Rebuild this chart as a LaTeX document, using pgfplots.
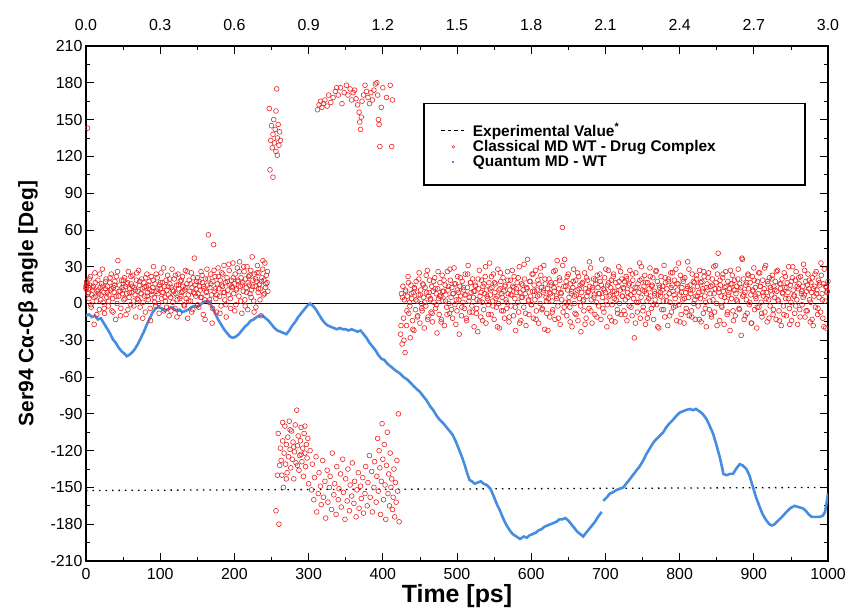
\documentclass[border=0pt]{standalone}
\usepackage{fontspec}
\setmainfont{Liberation Sans}
\usepackage{pgfplots}
\pgfplotsset{compat=1.18}
\definecolor{mdred}{RGB}{235,35,35}
\definecolor{qblue}{RGB}{70,140,225}
\begin{document}
\begin{tikzpicture}
\begin{axis}[
 width=742bp, height=515bp, scale only axis,
 xmin=0, xmax=1000, ymin=-210, ymax=210,
 xtick={0,100,...,1000}, ytick={-210,-180,...,210},
 minor x tick num=1, minor y tick num=1,
 tick align=inside, xtick pos=left, ytick pos=both,
 major tick length=8bp, minor tick length=4bp,
 axis line style={line width=1.2pt},
 tick style={black, line width=0.8pt},
 tick label style={font=\fontsize{16}{16}\selectfont},
 /pgf/number format/assume math mode=true,
 /pgf/number format/1000 sep={},
 xticklabel shift=4bp,
 xlabel={Time [ps]}, ylabel={Ser94 Cα-Cβ angle [Deg]},
 xlabel style={font=\bfseries\fontsize{25}{25}\selectfont, at={(axis description cs:0.5,0)}, anchor=north, inner sep=0pt, yshift=-23bp},
 ylabel style={font=\bfseries\fontsize{21}{21}\selectfont, at={(axis description cs:0,0.5)}, anchor=south, inner sep=0pt, yshift=48bp},
 legend style={at={(0.478,0.806)}, anchor=west, draw=none, fill=none, inner sep=0pt,
   nodes={inner sep=1.5bp},
   font=\bfseries\fontsize{15.5}{17}\selectfont, row sep=0bp},
 legend cell align=left,
]
\addplot[black, line width=0.8pt, forget plot] coordinates {(0,0)(1000,0)};
\addplot[black, line width=1.3pt, dash pattern=on 1.5bp off 5bp, forget plot] coordinates {(0,-152.5)(1000,-150)};
% Quantum MD - WT
\addplot[qblue, line width=2.6pt, forget plot] coordinates {
(0,-10)(4,-9)(8,-11)(12,-10)(16,-13)(20,-12)(24,-16)(28,-20)(32,-24)(36,-29)(40,-32)(44,-36)(48,-39)(52,-41)(55,-43)(58,-42)(62,-40)(66,-37)(70,-33)(74,-28)(78,-23)(82,-17)(86,-12)(90,-7)(94,-4)(98,-3)(102,-4)(106,-6)(110,-5)(114,-3)(118,-4)(122,-6)(126,-5)(130,-7)(134,-6)(138,-5)(142,-3)(146,-2)(150,-3)(154,-1)(158,1)(162,2)(166,1)(170,-3)(174,-8)(178,-13)(182,-17)(186,-21)(190,-24)(194,-27)(198,-28)(202,-27)(206,-25)(210,-22)(214,-19)(218,-17)(222,-14)(226,-13)(230,-11)(234,-10)(238,-10)(242,-12)(246,-14)(250,-17)(254,-20)(258,-22)(262,-23)(266,-24)(270,-25)(274,-22)(278,-18)(282,-15)(286,-11)(290,-8)(294,-5)(298,-2)(302,0)(306,-2)(310,-5)(314,-9)(318,-13)(322,-16)(326,-18)(330,-19)(334,-20)(338,-21)(342,-20)(346,-21)(350,-21)(354,-22)(358,-21)(362,-22)(366,-23)(370,-22)(374,-25)(378,-28)(382,-32)(386,-35)(390,-38)(394,-42)(398,-45)(402,-46)(406,-49)(410,-51)(414,-53)(418,-55)(423,-57)(428,-60)(433,-62)(438,-65)(441,-67)(446,-70)(450,-72)(455,-76)(459,-79)(464,-84)(468,-87)(473,-92)(477,-95)(482,-98)(486,-101)(490,-104)(494,-107)(498,-112)(502,-118)(506,-124)(510,-131)(514,-139)(517,-144)(520,-145)(524,-147)(528,-146)(532,-145)(536,-147)(540,-148)(545,-151)(550,-158)(554,-164)(558,-169)(562,-175)(566,-180)(571,-185)(575,-188)(580,-190)(585,-192)(590,-190)(594,-191)(598,-189)(602,-188)(606,-187)(610,-185)(614,-184)(618,-182)(622,-181)(626,-180)(630,-179)(634,-178)(638,-176)(642,-176)(646,-175)(650,-177)(654,-180)(658,-183)(662,-186)(666,-188)(670,-190)(674,-187)(678,-184)(682,-181)(686,-178)(690,-174)(695,-170)};
\addplot[qblue, line width=2.6pt, forget plot] coordinates {
(697,-161)(702,-158)(706,-155)(710,-154)(715,-152)(720,-151)(724,-150)(728,-147)(732,-144)(737,-140)(742,-136)(746,-133)(751,-128)(755,-123)(760,-118)(764,-114)(768,-111)(773,-108)(778,-105)(782,-101)(786,-98)(791,-95)(795,-92)(800,-89)(804,-88)(808,-87)(814,-86)(818,-87)(822,-86)(827,-88)(831,-90)(836,-94)(840,-99)(845,-106)(849,-114)(854,-125)(857,-133)(859,-139)(863,-140)(868,-139)(872,-139)(876,-135)(881,-131)(885,-132)(890,-135)(894,-140)(899,-150)(903,-158)(908,-166)(912,-172)(917,-177)(921,-180)(924,-181)(928,-180)(933,-177)(938,-174)(944,-170)(949,-167)(955,-165)(960,-166)(966,-167)(970,-169)(974,-172)(978,-174)(983,-174)(989,-174)(993,-173)(996,-170)(998,-163)(1000,-155)};
% Classical MD WT - Drug Complex
\addplot[only marks, mark=o, mark size=2.4bp, mdred, mark options={line width=0.6pt}, forget plot] coordinates {
(0,14)(0.5,13)(1.5,16)
(0,12)(1,18)(2,143)(3,9)(4,4)(5,15)(6,22)(7,-3)(8,7)(9,11)(10,14)(11,-17)(12,25)(13,6)(14,2)(15,10)(16,19)(17,8)(18,-5)(19,13)(20,3)(21,16)(22,28)(23,1)(24,9)(25,-8)(26,12)(27,20)(28,5)(29,14)(30,-2)(31,7)(32,17)(33,11)(34,24)(35,-6)(36,4)(37,13)(38,9)(39,18)(40,-13)(41,22)(42,0)(43,35)(44,6)(45,15)(46,10)(47,-4)(48,19)(49,8)
(50,11)(51,3)(52,21)(53,14)(54,-9)(55,8)(56,17)(57,26)(58,5)(59,12)(60,-1)(61,16)(62,9)(63,23)(64,2)(65,13)(66,7)(67,-11)(68,19)(69,4)(70,10)(71,27)(72,15)(73,-3)(74,8)(75,20)(76,12)(77,1)(78,17)(79,6)(80,-7)(81,14)(82,24)(83,9)(84,3)(85,18)(86,11)(87,-14)(88,22)(89,7)(90,13)(91,30)(92,5)(93,16)(94,-2)(95,10)(96,21)(97,8)(98,0)(99,15)
(100,12)(101,25)(102,4)(103,17)(104,9)(105,-6)(106,14)(107,2)(108,19)(109,11)(110,23)(111,7)(112,-10)(113,16)(114,5)(115,13)(116,28)(117,1)(118,10)(119,20)(120,-4)(121,8)(122,15)(123,3)(124,24)(125,12)(126,-8)(127,18)(128,6)(129,9)(130,22)(131,14)(132,-1)(133,11)(134,27)(135,4)(136,16)(137,-12)(138,7)(139,19)(140,10)(141,2)(142,25)(143,13)(144,-5)(145,9)(146,37)(147,15)(148,6)(149,18)
(150,21)(151,8)(152,-3)(153,14)(154,11)(155,26)(156,5)(157,17)(158,-9)(159,12)(160,3)(161,20)(162,9)(163,28)(164,15)(165,56)(166,1)(167,13)(168,24)(169,7)(170,-16)(171,18)(172,48)(173,10)(174,22)(175,4)(176,-7)(177,16)(178,29)(179,12)(180,6)(181,19)(182,-2)(183,25)(184,14)(185,9)(186,31)(187,3)(188,17)(189,-11)(190,21)(191,11)(192,7)(193,27)(194,15)(195,-4)(196,19)(197,13)(198,33)(199,8)
(200,16)(201,24)(202,-1)(203,12)(204,29)(205,18)(206,6)(207,34)(208,14)(209,21)(210,-8)(211,17)(212,10)(213,26)(214,3)(215,20)(216,13)(217,30)(218,-5)(219,22)(220,15)(221,8)(222,27)(223,11)(224,38)(225,19)(226,2)(227,24)(228,14)(229,-3)(230,18)(231,31)(232,9)(233,25)(234,16)(235,12)(236,-10)(237,21)(238,28)(239,7)(240,19)(241,33)(242,13)(243,23)(244,17)(245,10)
(0.5,16)(2.5,8)(4.5,20)(6.5,-1)(8.5,13)(10.5,5)(12.5,17)(14.5,-9)(16.5,11)(18.5,24)(20.5,7)(22.5,14)(24.5,-4)(26.5,18)(28.5,9)(30.5,2)(32.5,21)(34.5,12)(36.5,-7)(38.5,15)(40.5,6)(42.5,26)(44.5,10)(46.5,-10)(48.5,13)(50.5,19)(52.5,4)(54.5,16)(56.5,-5)(58.5,9)(60.5,22)(62.5,14)(64.5,-2)(66.5,11)(68.5,25)(70.5,3)(72.5,18)(74.5,8)(76.5,-12)(78.5,13)(80.5,21)(82.5,6)(84.5,15)(86.5,-4)(88.5,10)(90.5,19)(92.5,1)(94.5,24)(96.5,12)(98.5,-8)(100.5,17)(102.5,9)(104.5,29)(106.5,5)(108.5,-3)(110.5,14)(112.5,20)(114.5,-6)(116.5,11)(118.5,7)(120.5,23)(122.5,-11)(124.5,15)(126.5,4)(128.5,19)(130.5,10)(132.5,-2)(134.5,13)(136.5,26)(138.5,2)(140.5,16)(142.5,-7)(144.5,21)(146.5,8)(148.5,12)(150.5,-1)(152.5,18)(154.5,5)(156.5,23)(158.5,14)(160.5,-13)(162.5,10)(164.5,20)(166.5,3)(168.5,16)(170.5,-4)(172.5,27)(174.5,12)(176.5,7)(178.5,22)(180.5,-8)(182.5,15)(184.5,24)(186.5,9)(188.5,-1)(190.5,18)(192.5,32)(194.5,4)(196.5,14)(198.5,21)(200.5,-6)(202.5,11)(204.5,19)(206.5,26)(208.5,2)(210.5,15)(212.5,30)(214.5,-2)(216.5,9)(218.5,17)(220.5,23)(222.5,5)(224.5,14)(226.5,-7)(228.5,20)(230.5,25)(232.5,12)(234.5,3)(236.5,18)(238.5,35)(240.5,8)(242.5,16)(244.5,26)
(247,159)(248,109)(249,133)(250,145)(251,127)(252,103)(252,138)(253,150)(254,131)(255,142)(256,157)(256,124)(257,175)(258,135)(259,146)(260,129)(261,140)(262,133)(258,121)
(312,158)(314,162)(316,165)(318,160)(320,163)(322,166)(325,161)(327,170)(330,164)(333,168)(336,173)(338,176)(340,170)(343,176)(345,163)(348,172)(351,178)(353,170)(356,175)(358,166)(360,172)(362,174)(364,167)(366,162)(368,156)(369,148)(370,142)(371,152)(372,165)(374,170)(376,178)(378,173)(380,168)(382,163)(384,172)(386,166)(388,174)(390,179)(392,180)(393,170)(394,150)(395,146)(396,128)(398,160)(400,176)(405,168)(410,178)(413,166)(412,128)
(256,-169)(259,-106)(260,-180)(262,-118)(263,-128)(264,-140)(265,-112)(266,-150)(267,-122)(268,-100)(269,-131)(270,-115)(271,-138)(272,-109)(273,-125)(274,-96)(275,-119)(276,-134)(277,-104)(278,-127)(279,-113)(280,-143)(281,-121)(282,-99)(283,-130)(284,-87)(285,-116)(286,-108)(287,-136)(288,-124)(289,-112)(290,-101)(291,-129)(292,-118)(293,-141)(294,-106)(295,-122)(296,-133)(297,-115)(298,-126)(299,-110)(300,-147)(302,-120)(304,-152)(305,-131)(307,-160)(308,-142)(310,-125)(311,-170)(313,-155)(314,-138)(316,-149)(317,-164)(319,-128)(320,-158)(322,-145)(323,-175)(325,-136)(326,-162)(328,-150)(329,-141)(331,-168)(332,-122)(334,-156)(335,-147)(337,-172)(338,-133)(340,-160)(341,-151)(343,-139)(344,-166)(346,-127)(347,-154)(349,-176)(350,-143)(352,-161)(353,-135)(355,-169)(356,-148)(358,-157)(359,-130)(361,-163)(362,-145)(364,-174)(365,-152)(367,-138)(368,-167)(370,-149)(371,-159)(373,-142)(374,-171)(376,-155)(377,-133)(379,-165)(380,-146)(382,-124)(383,-158)(385,-137)(386,-170)(388,-150)(389,-129)(391,-162)(392,-141)(393,-110)(394,-153)(395,-120)(396,-134)(397,-172)(398,-145)(399,-98)(400,-127)(401,-160)(402,-115)(403,-148)(404,-176)(405,-132)(406,-105)(407,-155)(408,-139)(409,-165)(410,-122)(411,-150)(412,-143)(413,-168)(414,-158)(415,-135)(416,-174)(417,-146)(418,-162)(419,-128)(420,-153)(421,-90)(422,-178)
(261,-132)(265,-97)(270,-143)(275,-103)(280,-117)(285,-132)(290,-123)(295,-100)(258,-140)
(424,-25)(425,8)(426,-33)(427,14)(428,-12)(429,3)(430,-40)(431,10)(432,-18)(433,6)(434,22)(435,-8)(436,1)(437,-28)(438,15)(439,4)(440,-14)(441,9)(442,-22)(443,12)(444,-5)(445,18)(446,2)(447,-10)(448,7)(449,25)(450,-16)(451,11)(452,0)(453,-6)(454,16)(455,5)(456,-20)(457,13)(458,-2)(459,9)(460,27)(461,-11)(462,6)(463,19)(464,3)(465,-7)(466,14)(467,-15)(468,10)(469,1)(470,21)(471,-4)(472,8)(473,-24)
(474,12)(475,4)(476,-9)(477,17)(478,6)(479,-13)(480,23)(481,2)(482,10)(483,-18)(484,15)(485,7)(486,-3)(487,26)(488,11)(489,0)(490,-8)(491,19)(492,5)(493,13)(494,-12)(495,8)(496,29)(497,-1)(498,16)(499,3)(500,-6)(501,22)(502,9)(503,-25)(504,14)(505,6)(506,-10)(507,18)(508,1)(509,11)(510,-4)(511,24)(512,7)(513,-14)(514,13)(515,31)(516,2)(517,-7)(518,17)(519,9)(520,-2)(521,20)(522,5)(523,-19)
(524,10)(525,15)(526,-8)(527,3)(528,-23)(529,12)(530,27)(531,6)(532,-11)(533,19)(534,1)(535,14)(536,-5)(537,8)(538,22)(539,-16)(540,11)(541,4)(542,-1)(543,17)(544,33)(545,7)(546,-9)(547,13)(548,2)(549,24)(550,-13)(551,9)(552,16)(553,-3)(554,6)(555,28)(556,0)(557,-20)(558,12)(559,18)(560,-6)(561,5)(562,21)(563,10)(564,-12)(565,15)(566,3)(567,-4)(568,26)(569,8)(570,-15)(571,11)(572,19)(573,-2)
(574,7)(575,14)(576,-10)(577,22)(578,4)(579,-22)(580,12)(581,17)(582,1)(583,-7)(584,30)(585,9)(586,-14)(587,16)(588,5)(589,11)(590,-3)(591,20)(592,8)(593,-18)(594,13)(595,36)(596,2)(597,-9)(598,18)(599,6)(600,-1)(601,24)(602,10)(603,-12)(604,15)(605,3)(606,27)(607,-6)(608,11)(609,19)(610,-16)(611,7)(612,0)(613,23)(614,13)(615,-4)(616,9)(617,31)(618,-21)(619,16)(620,5)(621,-8)(622,12)(623,4)
(624,20)(625,-11)(626,8)(627,15)(628,2)(629,-5)(630,26)(631,10)(632,-13)(633,17)(634,6)(635,35)(636,-2)(637,12)(638,21)(639,-17)(640,9)(641,3)(642,62)(643,-7)(644,14)(645,36)(646,1)(647,18)(648,-10)(649,11)(650,24)(651,5)(652,-3)(653,16)(654,8)(655,-19)(656,13)(657,28)(658,0)(659,-8)(660,19)(661,7)(662,11)(663,-14)(664,22)(665,4)(666,15)(667,-23)(668,9)(669,17)(670,2)(671,-6)(672,25)(673,12)
(674,-12)(675,6)(676,19)(677,10)(678,-4)(679,14)(680,29)(681,3)(682,-16)(683,11)(684,20)(685,7)(686,-9)(687,16)(688,1)(689,23)(690,13)(691,-2)(692,8)(693,18)(694,-13)(695,36)(696,5)(697,12)(698,-7)(699,21)(700,9)(701,2)(702,-19)(703,15)(704,27)(705,6)(706,-11)(707,13)(708,19)(709,-1)(710,10)(711,24)(712,4)(713,-15)(714,17)(715,8)(716,-5)(717,14)(718,30)(719,0)(720,11)(721,-9)(722,20)(723,6)
(724,13)(725,-6)(726,18)(727,3)(728,22)(729,-14)(730,9)(731,15)(732,-2)(733,27)(734,7)(735,11)(736,-10)(737,19)(738,4)(739,-28)(740,13)(741,25)(742,1)(743,-7)(744,16)(745,9)(746,33)(747,-12)(748,5)(749,20)(750,11)(751,-3)(752,14)(753,23)(754,-17)(755,8)(756,2)(757,17)(758,-8)(759,12)(760,29)(761,6)(762,-4)(763,15)(764,21)(765,-13)(766,10)(767,3)(768,26)(769,-1)(770,18)(771,7)(772,-20)(773,13)
(774,9)(775,22)(776,-5)(777,14)(778,2)(779,31)(780,-11)(781,17)(782,6)(783,12)(784,-18)(785,20)(786,8)(787,1)(788,25)(789,-7)(790,15)(791,10)(792,-3)(793,19)(794,4)(795,28)(796,-14)(797,11)(798,16)(799,-1)(800,7)(801,23)(802,-9)(803,13)(804,3)(805,18)(806,-16)(807,21)(808,9)(809,-4)(810,12)(811,34)(812,5)(813,-10)(814,15)(815,8)(816,-6)(817,24)(818,11)(819,0)(820,17)(821,-13)(822,6)(823,20)
(824,14)(825,-2)(826,9)(827,27)(828,4)(829,-15)(830,18)(831,12)(832,-8)(833,22)(834,6)(835,1)(836,-19)(837,16)(838,11)(839,25)(840,-5)(841,8)(842,14)(843,-11)(844,20)(845,3)(846,30)(847,-7)(848,12)(849,17)(850,0)(851,24)(852,41)(853,9)(854,-14)(855,15)(856,6)(857,-3)(858,21)(859,10)(860,-17)(861,13)(862,26)(863,2)(864,-9)(865,18)(866,7)(867,12)(868,-22)(869,16)(870,4)(871,23)(872,-6)(873,11)
(874,19)(875,-10)(876,8)(877,14)(878,2)(879,28)(880,-4)(881,16)(882,11)(883,-26)(884,37)(885,6)(886,20)(887,-13)(888,9)(889,15)(890,3)(891,-8)(892,24)(893,12)(894,-1)(895,17)(896,7)(897,-16)(898,22)(899,10)(900,29)(901,-5)(902,13)(903,4)(904,-20)(905,18)(906,8)(907,-3)(908,25)(909,14)(910,1)(911,-11)(912,19)(913,6)(914,12)(915,-7)(916,31)(917,9)(918,-15)(919,16)(920,3)(921,21)(922,-2)(923,11)
(924,7)(925,23)(926,-9)(927,14)(928,5)(929,18)(930,-13)(931,10)(932,27)(933,2)(934,-6)(935,16)(936,12)(937,-18)(938,20)(939,8)(940,-2)(941,25)(942,13)(943,4)(944,-10)(945,17)(946,9)(947,30)(948,-4)(949,15)(950,1)(951,-14)(952,21)(953,11)(954,6)(955,-8)(956,19)(957,26)(958,3)(959,-17)(960,12)(961,16)(962,-5)(963,22)(964,8)(965,-1)(966,14)(967,32)(968,7)(969,-11)(970,18)(971,10)(972,-6)(973,24)
(974,12)(975,3)(976,-15)(977,17)(978,9)(979,21)(980,-18)(981,6)(982,14)(983,-3)(984,26)(985,11)(986,-9)(987,19)(988,5)(989,15)(990,-7)(991,23)(992,8)(993,-12)(994,16)(995,28)(996,2)(997,-20)(998,13)(999,10)(1000,18)
(424.5,-18)(426.5,5)(428.5,-30)(430.5,11)(432.5,-6)(434.5,17)(436.5,-2)(438.5,8)(440.5,-21)(442.5,13)(444.5,3)(446.5,-11)(448.5,20)(450.5,7)(452.5,-4)(454.5,15)(456.5,1)(458.5,23)(460.5,-13)(462.5,9)(464.5,4)(466.5,-8)(468.5,18)(470.5,12)(472.5,-1)(474.5,26)(476.5,6)(478.5,-15)(480.5,10)(482.5,19)(484.5,2)(486.5,-9)(488.5,14)(490.5,28)(492.5,-5)(494.5,8)(496.5,16)(498.5,-17)(500.5,11)(502.5,3)(504.5,21)(506.5,-3)(508.5,13)(510.5,7)(512.5,-12)(514.5,24)(516.5,5)(518.5,17)(520.5,-7)(522.5,10)
(524.5,14)(526.5,-4)(528.5,20)(530.5,2)(532.5,9)(534.5,-14)(536.5,16)(538.5,30)(540.5,6)(542.5,-9)(544.5,12)(546.5,22)(548.5,-2)(550.5,17)(552.5,4)(554.5,-19)(556.5,11)(558.5,25)(560.5,8)(562.5,-6)(564.5,14)(566.5,1)(568.5,19)(570.5,-11)(572.5,7)(574.5,27)(576.5,13)(578.5,-3)(580.5,9)(582.5,21)(584.5,-16)(586.5,5)(588.5,15)(590.5,32)(592.5,-8)(594.5,12)(596.5,3)(598.5,18)(600.5,-1)(602.5,24)(604.5,10)(606.5,-13)(608.5,6)(610.5,16)(612.5,29)(614.5,-5)(616.5,11)(618.5,20)(620.5,2)(622.5,-22)
(624.5,9)(626.5,17)(628.5,-7)(630.5,13)(632.5,27)(634.5,4)(636.5,-12)(638.5,19)(640.5,8)(642.5,31)(644.5,-3)(646.5,14)(648.5,22)(650.5,1)(652.5,-15)(654.5,10)(656.5,18)(658.5,6)(660.5,-9)(662.5,25)(664.5,12)(666.5,-2)(668.5,16)(670.5,3)(672.5,-17)(674.5,21)(676.5,9)(678.5,34)(680.5,-6)(682.5,13)(684.5,5)(686.5,19)(688.5,-11)(690.5,8)(692.5,24)(694.5,15)(696.5,-4)(698.5,11)(700.5,28)(702.5,-1)(704.5,17)(706.5,7)(708.5,-14)(710.5,22)(712.5,10)(714.5,3)(716.5,-8)(718.5,18)(720.5,26)(722.5,6)
(724.5,12)(726.5,-9)(728.5,20)(730.5,5)(732.5,16)(734.5,-3)(736.5,24)(738.5,9)(740.5,-16)(742.5,13)(744.5,1)(746.5,19)(748.5,30)(750.5,-6)(752.5,10)(754.5,17)(756.5,-12)(758.5,4)(760.5,22)(762.5,14)(764.5,-1)(766.5,8)(768.5,27)(770.5,-19)(772.5,15)(774.5,6)(776.5,11)(778.5,-5)(780.5,21)(782.5,2)(784.5,18)(786.5,-10)(788.5,13)(790.5,25)(792.5,7)(794.5,-2)(796.5,16)(798.5,33)(800.5,-15)(802.5,9)(804.5,20)(806.5,4)(808.5,-7)(810.5,14)(812.5,28)(814.5,11)(816.5,-11)(818.5,18)(820.5,3)(822.5,23)
(824.5,6)(826.5,-13)(828.5,17)(830.5,10)(832.5,26)(834.5,-4)(836.5,13)(838.5,21)(840.5,2)(842.5,-9)(844.5,15)(846.5,8)(848.5,31)(850.5,-18)(852.5,12)(854.5,19)(856.5,-2)(858.5,24)(860.5,5)(862.5,14)(864.5,-7)(866.5,9)(868.5,27)(870.5,16)(872.5,-14)(874.5,11)(876.5,3)(878.5,20)(880.5,-5)(882.5,13)(884.5,36)(886.5,7)(888.5,-10)(890.5,17)(892.5,23)(894.5,1)(896.5,-16)(898.5,11)(900.5,19)(902.5,6)(904.5,-3)(906.5,25)(908.5,14)(910.5,-8)(912.5,9)(914.5,29)(916.5,4)(918.5,18)(920.5,-12)(922.5,13)
(924.5,20)(926.5,-5)(928.5,11)(930.5,26)(932.5,3)(934.5,-14)(936.5,16)(938.5,9)(940.5,-9)(942.5,22)(944.5,13)(946.5,4)(948.5,-17)(950.5,18)(952.5,30)(954.5,7)(956.5,-2)(958.5,14)(960.5,21)(962.5,-11)(964.5,10)(966.5,5)(968.5,27)(970.5,-6)(972.5,15)(974.5,19)(976.5,1)(978.5,-13)(980.5,12)(982.5,24)(984.5,8)(986.5,-4)(988.5,17)(990.5,33)(992.5,3)(994.5,-19)(996.5,14)(998.5,9)
};
\draw[line width=1.2pt] (rel axis cs:0.4555,0.730) rectangle (rel axis cs:0.969,0.889);
\addlegendimage{legend image code/.code={\path[draw=none] (0bp,0bp) -- (30bp,0bp); \draw[black, line width=1.1pt, dash pattern=on 3.5bp off 3bp] (0bp,0bp) -- (24bp,0bp);}}
\addlegendentry{Experimental Value\textsuperscript{*}}
\addlegendimage{legend image code/.code={\path[draw=none] (0bp,0bp) -- (30bp,0bp); \draw[mdred, line width=0.5pt] (12bp,0bp) circle (1.3bp);}}
\addlegendentry{Classical MD WT - Drug Complex}
\addlegendimage{legend image code/.code={\path[draw=none] (0bp,0bp) -- (30bp,0bp); \fill[qblue, draw=none] (11bp,-1bp) rectangle (13bp,1bp);}}
\addlegendentry{Quantum MD - WT}
\end{axis}
\begin{axis}[
 width=742bp, height=515bp, scale only axis,
 xmin=0, xmax=3, ymin=0, ymax=1,
 axis x line*=top, axis y line=none,
 xtick={0,0.3,0.6,0.9,1.2,1.5,1.8,2.1,2.4,2.7,3.0},
 minor x tick num=1, tick align=inside,
 major tick length=8bp, minor tick length=4bp,
 axis line style={line width=1.2pt},
 tick style={black, line width=0.8pt},
 tick label style={font=\fontsize{16}{16}\selectfont},
 /pgf/number format/assume math mode=true,
 xticklabel shift=12bp,
 xticklabel style={/pgf/number format/.cd, fixed, fixed zerofill, precision=1},
]
\end{axis}
\pgfresetboundingbox
\useasboundingbox ([shift={(-86bp,-51bp)}]current axis.south west) rectangle ([shift={(23bp,46bp)}]current axis.north east);
\end{tikzpicture}
\end{document}
